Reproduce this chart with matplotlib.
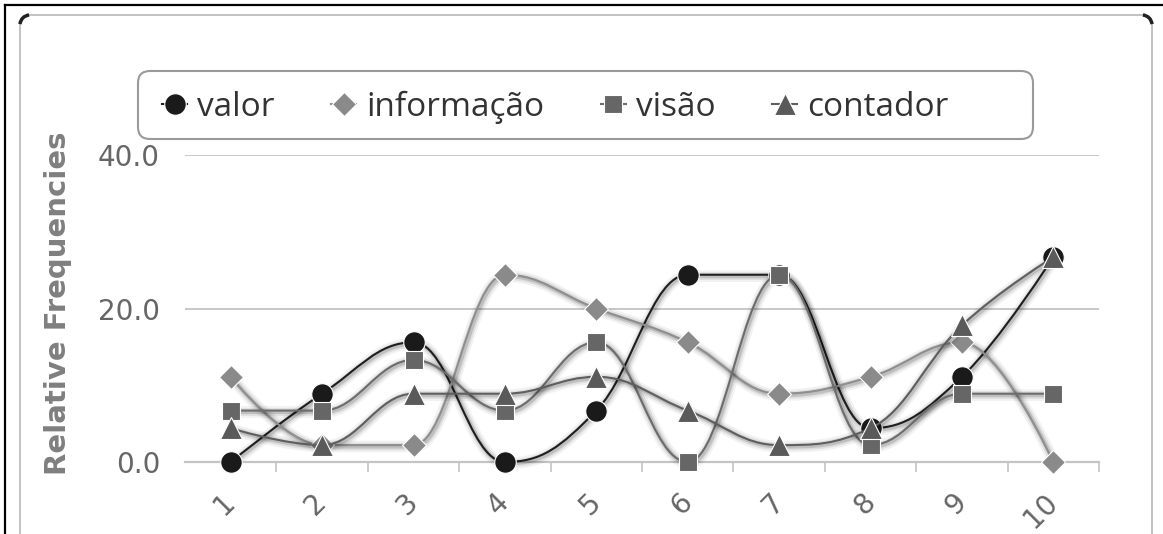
import matplotlib
matplotlib.use("Agg")
import matplotlib.pyplot as plt
import matplotlib.patheffects as pe
from matplotlib.path import Path
from matplotlib.patches import PathPatch, FancyBboxPatch, Arc
from matplotlib.lines import Line2D
from matplotlib.transforms import IdentityTransform

categories = ["1", "2", "3", "4", "5", "6", "7", "8", "9", "10"]

valor = [0.0, 8.9, 15.6, 0.0, 6.7, 24.4, 24.4, 4.4, 11.1, 26.7]
informacao = [11.1, 2.2, 2.2, 24.4, 20.0, 15.6, 8.9, 11.1, 15.6, 0.0]
visao = [6.7, 6.7, 13.3, 6.7, 15.6, 0.0, 24.4, 2.2, 8.9, 8.9]
contador = [4.4, 2.2, 8.9, 8.9, 11.1, 6.7, 2.2, 4.4, 17.8, 26.7]

series_names = ["valor", "informação", "visão", "contador"]
line_colors = ["#1e1e1e", "#8e8e8e", "#6c6c6c", "#5e5e5e"]
marker_colors = ["#1a1a1a", "#8a8a8a", "#666666", "#5a5a5a"]
markers = ["o", "D", "s", "^"]
marker_sizes = [15.5, 12, 13, 15.5]

W, H = 1163, 534


def spline_path(xs, ys, smoothing=1.5):
    # highcharts-style spline: bezier controls flattened at local extrema
    n = len(xs)
    denom = smoothing + 1
    left = [None] * n
    right = [None] * n
    for i in range(1, n - 1):
        px, py = xs[i], ys[i]
        lx, ly = xs[i - 1], ys[i - 1]
        nx, ny = xs[i + 1], ys[i + 1]
        lcx = (smoothing * px + lx) / denom
        lcy = (smoothing * py + ly) / denom
        rcx = (smoothing * px + nx) / denom
        rcy = (smoothing * py + ny) / denom
        if rcx != lcx:
            corr = ((rcy - lcy) * (rcx - px)) / (rcx - lcx) + py - rcy
            lcy += corr
            rcy += corr
        if lcy > ly and lcy > py:
            lcy = max(ly, py); rcy = 2 * py - lcy
        elif lcy < ly and lcy < py:
            lcy = min(ly, py); rcy = 2 * py - lcy
        if rcy > ny and rcy > py:
            rcy = max(ny, py); lcy = 2 * py - rcy
        elif rcy < ny and rcy < py:
            rcy = min(ny, py); lcy = 2 * py - rcy
        left[i] = (lcx, lcy)
        right[i] = (rcx, rcy)
    verts = [(xs[0], ys[0])]
    codes = [Path.MOVETO]
    for i in range(1, n):
        c1 = right[i - 1] or (xs[i - 1], ys[i - 1])
        c2 = left[i] or (xs[i], ys[i])
        verts += [c1, c2, (xs[i], ys[i])]
        codes += [Path.CURVE4] * 3
    return Path(verts, codes)


fig = plt.figure(figsize=(W / 100, H / 100), dpi=100)
ax = fig.add_axes([185 / W, 1 - 462 / H, (1099 - 185) / W, (462 - 155) / H])

x = list(range(1, len(categories) + 1))
all_series = [valor, informacao, visao, contador]

lw = 1.5
shadow = [
    pe.Stroke(offset=(1, -1), linewidth=lw + 7, foreground="k", alpha=0.05),
    pe.Stroke(offset=(1, -1), linewidth=lw + 4, foreground="k", alpha=0.08),
    pe.Stroke(offset=(1, -1), linewidth=lw + 1.5, foreground="k", alpha=0.14),
    pe.Normal(),
]

for k, ys in enumerate(all_series):
    patch = PathPatch(spline_path(x, ys), fill=False, edgecolor=line_colors[k],
                      linewidth=lw, zorder=3 + k, clip_on=False,
                      path_effects=shadow)
    ax.add_patch(patch)
    ax.plot(x, ys, ls="none", marker=markers[k], ms=marker_sizes[k],
            mfc=marker_colors[k], mec="white", mew=0.8, clip_on=False,
            zorder=3.5 + k)

ax.set_xlim(0.5, 10.5)
ax.set_ylim(0, 40)

for s in ["top", "right", "left"]:
    ax.spines[s].set_visible(False)
ax.spines["bottom"].set_color("#c4c4c4")
ax.spines["bottom"].set_linewidth(1.6)

ax.set_yticks([0, 20, 40])
ax.set_yticklabels([f"{v:.1f}" for v in [0, 20, 40]])
ax.yaxis.grid(True, color="#c8c8c8", linewidth=1.4)
ax.set_axisbelow(True)
ax.tick_params(axis="y", length=0, pad=18, labelsize=20, labelcolor="#666666")

ax.set_xticks(x)
ax.set_xticklabels(categories, rotation=45, ha="right", va="center",
                   rotation_mode="anchor")
ax.set_xticks([v + 0.5 for v in x], minor=True)
ax.tick_params(axis="x", which="major", length=0, pad=26, labelsize=20,
               labelcolor="#666666")
ax.tick_params(axis="x", which="minor", length=7, width=1.2, color="#c4c4c4",
               direction="out")

fig.text(58 / W, 1 - 303 / H, "Relative Frequencies", rotation=90,
         ha="center", va="center", fontsize=21, fontweight="bold",
         color="#7f7f7f")

# legend
handles = [Line2D([], [], color=line_colors[k], lw=lw, marker=markers[k],
                  ms=marker_sizes[k], mfc=marker_colors[k], mec="white",
                  mew=0.8) for k in range(4)]
fig.legend(handles, series_names, loc="center left",
           bbox_to_anchor=(162 / W, 1 - 107 / H), ncol=4, frameon=False,
           borderpad=0, borderaxespad=0, handlelength=0.75,
           handletextpad=0.3, columnspacing=1.7,
           prop={"family": "Open Sans", "size": 24}, labelcolor="#333333")

ident = IdentityTransform()
fig.add_artist(FancyBboxPatch((138, H - 139), 1033 - 138, 139 - 71,
                              boxstyle="round,pad=0,rounding_size=12",
                              fill=False, edgecolor="#9a9a9a", linewidth=1.5,
                              transform=ident))

# chart frame and page border
fig.add_artist(FancyBboxPatch((20, -40), 1152 - 20, H - 15 + 40,
                              boxstyle="round,pad=0,rounding_size=10",
                              fill=False, edgecolor="#bdbdbd", linewidth=1.3,
                              transform=ident))
fig.add_artist(Arc((30, H - 25), 20, 20, theta1=95, theta2=175,
                   color="#222222", linewidth=2.5, transform=ident))
fig.add_artist(Arc((1142, H - 25), 20, 20, theta1=5, theta2=85,
                   color="#222222", linewidth=2.5, transform=ident))
fig.add_artist(Line2D([5, 5], [0, H - 5], color="black", linewidth=1.6,
                      transform=ident))
fig.add_artist(Line2D([5, W], [H - 5, H - 5], color="black", linewidth=1.6,
                      transform=ident))

fig.savefig("out.png", dpi=100)
